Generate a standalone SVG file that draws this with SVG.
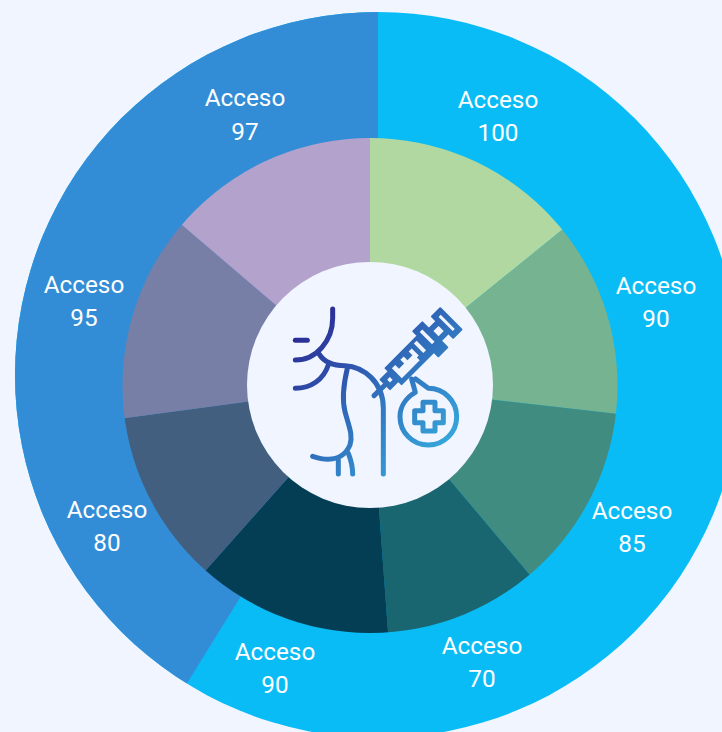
<svg xmlns="http://www.w3.org/2000/svg" width="722" height="732" viewBox="0 0 722 732">
<style>
.l{font-family:Roboto,"Liberation Sans",sans-serif;font-size:24.3px;fill:#fff;text-anchor:middle}
.i{fill:none;stroke:url(#g);stroke-width:15;stroke-linecap:round;stroke-linejoin:round}
.s{fill:url(#h);stroke:url(#h);stroke-width:6;stroke-linecap:round;stroke-linejoin:round}
.c{fill:#f0f5ff}
</style>
<defs>
<linearGradient id="g" gradientUnits="userSpaceOnUse" x1="100" y1="80" x2="520" y2="500">
<stop offset="0" stop-color="#2a2391"/><stop offset=".5" stop-color="#3068b8"/><stop offset="1" stop-color="#36a8dc"/>
</linearGradient>
<linearGradient id="h" gradientUnits="userSpaceOnUse" x1="28" y1="-328" x2="28" y2="266">
<stop offset="0" stop-color="#2a2391"/><stop offset=".5" stop-color="#3068b8"/><stop offset="1" stop-color="#36a8dc"/>
</linearGradient>
<clipPath id="o"><circle cx="378" cy="375" r="363"/></clipPath>
<clipPath id="n"><circle cx="370" cy="385.5" r="247.5"/></clipPath>
</defs>
<rect width="722" height="732" fill="#f0f5ff"/>
<g id="outer-ring" clip-path="url(#o)">
<rect width="722" height="732" fill="#0abcf5"/>
<path d="M378 375L150 743L0 743V0H378Z" fill="#338dd6"/>
</g>
<g id="inner-ring">
<g clip-path="url(#n)">
<path d="M370 385.5V-100H900V74.5H754Z" fill="#b1d8a0"/>
<path d="M370 385.5L754 74.5L864 442.5Z" fill="#75b391"/>
<path d="M370 385.5L864 442.5L688 762.5Z" fill="#408c80"/>
<path d="M370 385.5L688 762.5L406 878.5Z" fill="#1a6670"/>
<path d="M370 385.5L406 878.5L42 754.5Z" fill="#033e55"/>
<path d="M370 385.5L42 754.5L-120 450.5Z" fill="#425f7f"/>
<path d="M370 385.5L-120 450.5L-6 64.5Z" fill="#787fa6"/>
<path d="M370 385.5L-6 64.5V-100H370Z" fill="#b3a2cb"/>
</g>
<circle cx="370" cy="385" r="123" fill="#f0f5ff"/>
</g>
<g id="icon" transform="translate(270 285) scale(.33333)">
<g class="i">
<path d="M188 72V100C188 165 140 225 76 225"/>
<path d="M76 166H112"/>
<path d="M76 310C122 310 160 285 175 240"/>
<path d="M148 208C165 235 195 242 225 242C280 245 340 290 340 370V567"/>
<path d="M232 250C220 300 215 340 225 380C235 420 250 450 240 480C225 515 190 535 128 514"/>
<path d="M205 525V567M235 505C245 530 248 550 248 567"/>
<path d="M312 332L345 300"/>
<path d="M425 282L436 322C408 338 390 365 390 395C390 442 428 480 475 480C522 480 560 442 560 395C560 348 522 310 475 310L437 282"/>
<path d="M459 352H495V377H520V413H495V438H459V413H434V377H459Z"/>
</g>
<g transform="translate(312 332) rotate(-45)">
<path class="s" d="M48 -20H83V-34H220V-53H258V-25H291V-45H326V45H291V25H258V53H220V34H83V20H48Z"/>
<path class="c" d="M304 -30H313V30H304ZM263 -11H285V11H263ZM232 -38H243V14H232ZM195 -26H207V14H195ZM62 -6H73V6H62Z"/>
<path class="c" d="M96 -20H110V-4H132V-20H146V-4H167V-20H180V10H172V22H96Z"/>
</g>
</g>
<g id="labels">
<text class="l" x="498" y="108">Acceso</text><text class="l" x="498" y="141">100</text>
<text class="l" x="245" y="106">Acceso</text><text class="l" x="245" y="140">97</text>
<text class="l" x="656" y="294">Acceso</text><text class="l" x="656" y="327">90</text>
<text class="l" x="84" y="293">Acceso</text><text class="l" x="84" y="326">95</text>
<text class="l" x="632" y="519">Acceso</text><text class="l" x="632" y="552">85</text>
<text class="l" x="107" y="518">Acceso</text><text class="l" x="107" y="551">80</text>
<text class="l" x="482" y="654">Acceso</text><text class="l" x="482" y="687">70</text>
<text class="l" x="275" y="660">Acceso</text><text class="l" x="275" y="693">90</text>
</g>
</svg>
